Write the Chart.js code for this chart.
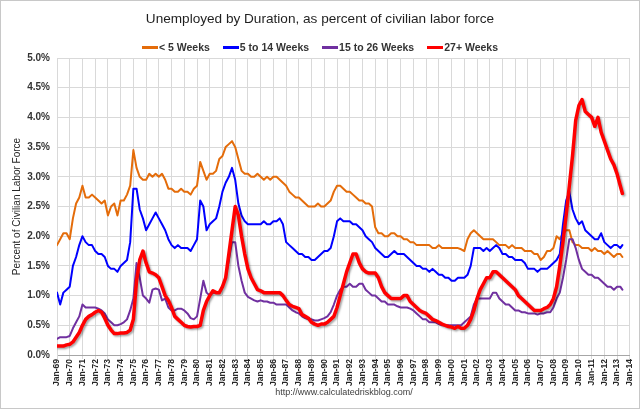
<!DOCTYPE html>
<html>
<head>
<meta charset="utf-8">
<script src="https://cdn.jsdelivr.net/npm/chart.js@4.4.0/dist/chart.umd.min.js"></script>
<style>
  body { margin: 0; background: #fff; }
  #wrap { position: relative; width: 640px; height: 409px; font-family: "Liberation Sans", Arial, sans-serif; overflow: hidden; }
  #frame { position: absolute; left: 0; top: 0; right: 0; bottom: 0; border: 1px solid #c8c8c8; pointer-events: none; }
  #chart { position: absolute; left: 0; top: 0; }
  #title { position: absolute; top: 11px; left: 0; width: 640px; text-align: center; font-size: 13.6px; color: #1f1f1f; }
  #legend { position: absolute; top: 41px; left: 0; width: 640px; display: flex; justify-content: center; gap: 13px; font-size: 10.5px; font-weight: bold; color: #333; }
  #legend .item { display: flex; align-items: center; }
  #legend .swatch { display: inline-block; width: 16px; height: 3px; margin-right: 1px; }
  #source { position: absolute; top: 387px; left: 0; width: 688px; text-align: center; font-size: 9px; color: #404040; }
</style>
</head>
<body>
<div id="wrap">
  <canvas id="chart" width="640" height="409"></canvas>
  <div id="title">Unemployed by Duration, as percent of civilian labor force</div>
  <div id="legend"></div>
  <div id="source">http://www.calculatedriskblog.com/</div>
  <div id="frame"></div>
</div>
<script>
// quarterly readings (Jan, Apr, Jul, Oct) from Jan-69, last point Jun-13
const under5 = [
  1.85, 1.95, 2.05, 2.05,  1.95, 2.3, 2.55, 2.65,  2.85, 2.65, 2.65, 2.7,  2.65, 2.6, 2.55, 2.6,
  2.35, 2.5, 2.55, 2.35,  2.6, 2.6, 2.7, 2.85,  3.45, 3.15, 3.0, 2.95,  2.95, 3.05, 3.0, 3.05,
  3.0, 3.05, 2.95, 2.8,  2.8, 2.75, 2.75, 2.8,  2.75, 2.75, 2.7, 2.8,  2.85, 3.25, 3.1, 2.95,
  3.05, 3.05, 3.1, 3.3,  3.35, 3.5, 3.55, 3.6,  3.5, 3.3, 3.1, 3.05,  3.05, 3.0, 3.0, 3.05,
  3.0, 2.95, 3.0, 2.95,  3.0, 3.0, 2.95, 2.9,  2.85, 2.75, 2.7, 2.65,  2.65, 2.6, 2.55, 2.5,
  2.5, 2.5, 2.55, 2.5,  2.5, 2.55, 2.6, 2.75,  2.85, 2.85, 2.8, 2.75,  2.75, 2.7, 2.65, 2.6,
  2.6, 2.55, 2.55, 2.5,  2.15, 2.05, 2.05, 2.0,  2.0, 2.05, 2.05, 2.0,  2.0, 1.95, 1.95, 1.9,
  1.9, 1.85, 1.85, 1.85,  1.85, 1.85, 1.8, 1.8,  1.85, 1.8, 1.8, 1.8,  1.8, 1.8, 1.8, 1.78,
  1.75, 1.95, 2.05, 2.1,  2.05, 2.0, 1.95, 1.95,  1.95, 1.95, 1.9, 1.85,  1.85, 1.85, 1.8, 1.85,
  1.8, 1.8, 1.8, 1.75,  1.75, 1.75, 1.7, 1.7,  1.6, 1.65, 1.75, 1.75,  1.8, 2.0, 1.95, 2.05,
  2.1, 2.1, 1.9, 1.85,  1.85, 1.8, 1.8, 1.8,  1.75, 1.8, 1.75, 1.75,  1.7, 1.75, 1.7, 1.65,
  1.7, 1.7, 1.65
];
const wk5to14 = [
  1.05, 0.85, 1.05, 1.1,  1.15, 1.5, 1.65, 1.85,  2.0, 1.9, 1.85, 1.85,  1.75, 1.7, 1.7, 1.65,
  1.5, 1.45, 1.45, 1.4,  1.5, 1.55, 1.6, 1.9,  2.8, 2.8, 2.45, 2.3,  2.1, 2.2, 2.3, 2.4,
  2.3, 2.2, 2.1, 1.95,  1.85, 1.8, 1.85, 1.8,  1.8, 1.8, 1.75, 1.85,  1.95, 2.6, 2.5, 2.1,
  2.2, 2.25, 2.3, 2.5,  2.75, 2.9, 3.0, 3.15,  2.95, 2.55, 2.35, 2.25,  2.2, 2.2, 2.2, 2.2,
  2.2, 2.25, 2.2, 2.2,  2.25, 2.25, 2.3, 2.2,  1.9, 1.85, 1.8, 1.75,  1.7, 1.7, 1.65, 1.65,
  1.6, 1.6, 1.65, 1.7,  1.75, 1.75, 1.8, 2.0,  2.25, 2.3, 2.25, 2.25,  2.25, 2.2, 2.2, 2.15,
  2.1, 2.0, 1.95, 1.9,  1.8, 1.75, 1.7, 1.65,  1.65, 1.7, 1.75, 1.7,  1.7, 1.7, 1.65, 1.6,
  1.55, 1.5, 1.5, 1.45,  1.45, 1.4, 1.45, 1.4,  1.35, 1.35, 1.3, 1.3,  1.25, 1.25, 1.3, 1.3,
  1.3, 1.35, 1.5, 1.8,  1.8, 1.8, 1.75, 1.8,  1.75, 1.8, 1.85, 1.8,  1.7, 1.7, 1.65, 1.65,
  1.6, 1.6, 1.6, 1.55,  1.45, 1.45, 1.45, 1.4,  1.45, 1.45, 1.45, 1.5,  1.55, 1.6, 1.7, 2.2,
  2.6, 2.75, 2.45, 2.3,  2.2, 2.25, 2.1, 2.05,  2.0, 1.95, 1.95, 2.05,  1.9, 1.85, 1.8, 1.85,
  1.85, 1.8, 1.85
];
const wk15to26 = [
  0.27, 0.3, 0.3, 0.3,  0.32, 0.45, 0.55, 0.65,  0.85, 0.8, 0.8, 0.8,  0.8, 0.78, 0.75, 0.7,
  0.6, 0.55, 0.5, 0.5,  0.52, 0.55, 0.6, 0.75,  0.95, 1.55, 1.3, 1.0,  0.95, 0.88, 1.1, 1.12,
  1.1, 0.92, 0.95, 0.8,  0.75, 0.75, 0.78, 0.78,  0.75, 0.7, 0.62, 0.6,  0.65, 0.95, 1.25, 1.05,
  1.0, 1.05, 1.05, 1.05,  1.15, 1.3, 1.6, 1.9,  1.9, 1.5, 1.25, 1.05,  0.98, 0.95, 0.92, 0.9,
  0.92, 0.9, 0.9, 0.88,  0.88, 0.85, 0.85, 0.85,  0.85, 0.8, 0.75, 0.72,  0.7, 0.65, 0.62, 0.6,
  0.6, 0.58, 0.58, 0.6,  0.62, 0.65, 0.72, 0.85,  1.0, 1.1, 1.15, 1.15,  1.2, 1.15, 1.15, 1.2,
  1.2, 1.1, 1.05, 1.0,  1.0, 0.95, 0.9, 0.9,  0.85, 0.85, 0.85, 0.82,  0.8, 0.8, 0.8, 0.78,
  0.75, 0.7, 0.65, 0.6,  0.6, 0.55, 0.55, 0.55,  0.52, 0.5, 0.5, 0.5,  0.5, 0.5, 0.5, 0.5,
  0.55, 0.6, 0.65, 0.85,  0.95, 0.95, 0.95, 0.95,  0.95, 1.05, 1.05, 0.95,  0.9, 0.85, 0.85, 0.8,
  0.75, 0.75, 0.72, 0.72,  0.7, 0.7, 0.7, 0.68,  0.7, 0.7, 0.72, 0.72,  0.8, 0.95, 1.05, 1.3,
  1.6, 1.95, 1.95, 1.8,  1.6, 1.45, 1.4, 1.35,  1.35, 1.3, 1.3, 1.25,  1.2, 1.15, 1.15, 1.1,
  1.15, 1.15, 1.1
];
const wk27plus = [
  0.15, 0.15, 0.15, 0.17,  0.18, 0.22, 0.3, 0.38,  0.5, 0.6, 0.65, 0.68,  0.72, 0.75, 0.72, 0.62,
  0.5, 0.42, 0.36, 0.36,  0.37, 0.37, 0.38, 0.42,  0.6, 1.25, 1.6, 1.75,  1.55, 1.4, 1.38, 1.35,
  1.3, 1.15, 1.0, 0.92,  0.8, 0.65, 0.6, 0.55,  0.5, 0.48, 0.47, 0.48,  0.48, 0.5, 0.75, 0.9,
  1.0, 1.08, 1.05, 1.05,  1.15, 1.3, 1.7, 2.1,  2.5, 2.35, 2.0, 1.7,  1.45, 1.3, 1.2, 1.1,
  1.08, 1.05, 1.05, 1.05,  1.05, 1.05, 1.05, 1.0,  0.92, 0.85, 0.82, 0.8,  0.78, 0.68, 0.65, 0.62,
  0.55, 0.52, 0.5, 0.52,  0.52, 0.55, 0.6, 0.65,  0.8, 1.0, 1.2, 1.4,  1.55, 1.7, 1.7, 1.55,
  1.45, 1.4, 1.38, 1.38,  1.38, 1.3, 1.15, 1.05,  1.0, 0.95, 0.95, 0.95,  0.95, 1.0, 1.0, 0.9,
  0.85, 0.8, 0.75, 0.72,  0.7, 0.65, 0.6, 0.58,  0.55, 0.52, 0.5, 0.48,  0.47, 0.45, 0.48, 0.45,
  0.45, 0.5, 0.6, 0.75,  0.95, 1.1, 1.2, 1.3,  1.3, 1.4, 1.4, 1.35,  1.3, 1.25, 1.2, 1.15,
  1.1, 1.0, 0.95, 0.9,  0.85, 0.8, 0.75, 0.75,  0.75, 0.78, 0.8, 0.85,  0.95, 1.15, 1.5, 1.9,
  2.35, 2.85, 3.35, 3.95,  4.2, 4.3, 4.1, 4.05,  4.0, 3.85, 4.0, 3.75,  3.6, 3.45, 3.3, 3.2,
  3.05, 2.85, 2.72
];

const seriesNames = ['< 5 Weeks', '5 to 14 Weeks', '15 to 26 Weeks', '27+ Weeks'];
const seriesColors = ['#E46C0A', '#0000FF', '#7030A0', '#FF0000'];
const yTickValues = [0, 0.5, 1, 1.5, 2, 2.5, 3, 3.5, 4, 4.5, 5];
const firstYear = 1969, lastYear = 2014;

// dates of the readings as fractional years
const periods = [];
for (let y = firstYear; y <= 2013; y++) {
  for (const m of [1, 4, 7, 10]) {
    if (y === 2013 && m > 4) break;
    periods.push(y + (m - 1) / 12);
  }
}
periods.push(2013 + 5 / 12);

const yearTicks = [];
for (let y = firstYear; y <= lastYear; y++) yearTicks.push(y);
const yearLabel = y => 'Jan-' + String(y % 100).padStart(2, '0');

const values = [under5, wk5to14, wk15to26, wk27plus];

// legend
const legendEl = document.getElementById('legend');
seriesNames.forEach((name, i) => {
  const item = document.createElement('span');
  item.className = 'item';
  item.innerHTML = '<span class="swatch" style="background:' + seriesColors[i] + '"></span>' + name;
  legendEl.appendChild(item);
});

// drop shadow under the 27+ line, like the excel original
const shadowPlugin = {
  id: 'redShadow',
  beforeDatasetDraw(chart, args) {
    if (args.index !== 3) return;
    const c = chart.ctx;
    c.save();
    c.shadowColor = 'rgba(0,0,0,0.35)';
    c.shadowBlur = 2;
    c.shadowOffsetX = 1.5;
    c.shadowOffsetY = 1.5;
  },
  afterDatasetDraw(chart, args) {
    if (args.index !== 3) return;
    chart.ctx.restore();
  }
};

const datasets = values.map((vals, i) => ({
  label: seriesNames[i],
  data: vals.map((v, k) => ({ x: periods[k], y: v })),
  borderColor: seriesColors[i],
  borderWidth: i === 3 ? 3.5 : 2,
  order: 3 - i,
  pointRadius: 0,
  tension: 0,
  fill: false
}));

const tickFont = { family: '"Liberation Sans", Arial, sans-serif', size: 8.5, weight: 'bold' };

new Chart(document.getElementById('chart').getContext('2d'), {
  type: 'line',
  data: { datasets },
  plugins: [shadowPlugin],
  options: {
    responsive: false,
    animation: false,
    layout: { padding: { top: 58, right: 10, left: 0, bottom: 0 } },
    plugins: { legend: { display: false }, title: { display: false }, tooltip: { enabled: false } },
    elements: { line: { borderJoinStyle: 'round', borderCapStyle: 'round' } },
    scales: {
      x: {
        type: 'linear',
        min: firstYear,
        max: lastYear,
        afterFit(s) { s.height = 54; },
        afterBuildTicks(s) { s.ticks = yearTicks.map(v => ({ value: v })); },
        ticks: {
          autoSkip: false, maxRotation: 90, minRotation: 90, padding: 0,
          font: tickFont, color: '#262626',
          callback: v => yearLabel(v)
        },
        grid: { color: '#d9d9d9', tickLength: 4 },
        border: { color: '#a6a6a6' }
      },
      y: {
        min: 0,
        max: 5,
        afterFit(s) { s.width = 57; },
        afterBuildTicks(s) { s.ticks = yTickValues.map(v => ({ value: v })); },
        ticks: {
          padding: 7, color: '#333',
          font: { family: '"Liberation Sans", Arial, sans-serif', size: 10, weight: 'bold' },
          callback: v => v.toFixed(1) + '%'
        },
        grid: { color: '#d9d9d9', drawTicks: false },
        border: { color: '#d9d9d9' },
        title: {
          display: true, text: 'Percent of Civilian Labor Force', color: '#262626',
          font: { family: '"Liberation Sans", Arial, sans-serif', size: 10 },
          padding: { top: 11, bottom: 0 }
        }
      }
    }
  }
});
</script>
</body>
</html>
